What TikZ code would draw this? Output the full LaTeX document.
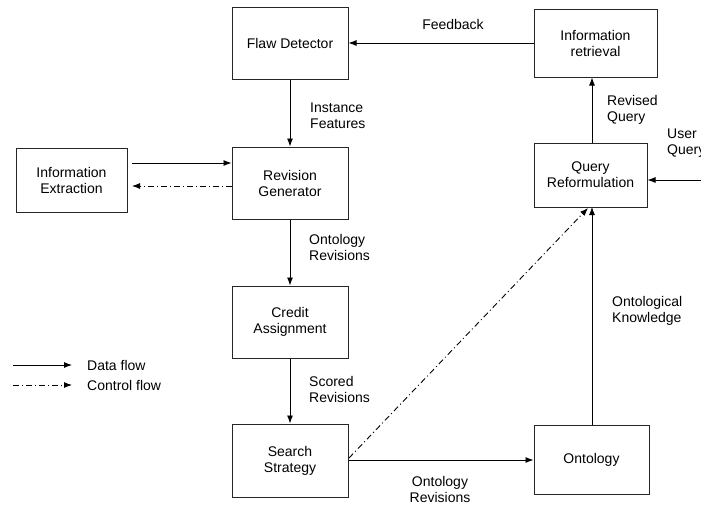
\documentclass[tikz,border=0pt]{standalone}
\usepackage{fontspec}
\setmainfont{Liberation Sans}
\usetikzlibrary{arrows.meta}
\begin{document}
\begin{tikzpicture}[x=1pt,y=-1pt,
  box/.style={draw=black!85, line width=1pt, minimum width=116pt, minimum height=72pt,
    align=center, font=\fontsize{14}{16}\selectfont, inner sep=0pt},
  lbl/.style={align=left, font=\fontsize{14}{16}\selectfont, inner sep=0pt},
  flow/.style={line width=0.9pt, -{Latex[length=8pt,width=6pt]}},
  ctrl/.style={flow, dash pattern=on 6pt off 3pt on 1pt off 3pt}]
\useasboundingbox (0,0) rectangle (701,504);

% process boxes
\node[box] (fd) at (290,43) {Flaw Detector};
\node[box] (rg) at (290,183) {Revision\\Generator};
\node[box, minimum width=111pt, minimum height=64pt] (ie) at (71.5,180) {Information\\Extraction};
\node[box] (ca) at (290,322) {Credit\\Assignment};
\node[box, minimum height=73pt] (ss) at (290,460.5) {Search\\Strategy};
\node[box, minimum width=123pt, minimum height=68pt] (ir) at (595.5,43) {Information\\retrieval};
\node[box, minimum width=113pt, minimum height=64pt] (qr) at (590.5,175) {Query\\Reformulation};
\node[box, minimum width=115pt, minimum height=69pt] (on) at (591.5,459.5) {Ontology};

% free ends
\coordinate (uq) at (701,180);
\coordinate (ieA) at (132,163);
\coordinate (ieB) at (132,186);

% data flow
\draw[flow] (fd) -- (rg);
\draw[flow] (rg) -- (ca);
\draw[flow] (ca) -- (ss);
\draw[flow] (ir.west) -- (fd.east);
\draw[flow] (ieA) -- (ieA -| rg.west);
\draw[flow] (ss.east |- 0,460) -- (on.west |- 0,460);
\draw[flow] (uq) -- (uq -| qr.east);
\draw[flow] (592,425) coordinate (onTop) -- (592,207);
\draw[flow] (qr.north -| 592,0) -- (ir.south -| 592,0);

% control flow
\draw[ctrl] (ieB -| rg.west) -- (ieB);
\draw[ctrl] (349,458) coordinate (ssE) -- (588,208);

% edge labels
\node[lbl, anchor=west] (l1) at (310,116) {Instance\\Features};
\node[lbl] (l2) at (453,24) {Feedback};
\node[lbl, anchor=west] (l3) at (309,247) {Ontology\\Revisions};
\node[lbl, anchor=west] (l4) at (309,389) {Scored\\Revisions};
\node[lbl, align=center] (l5) at (440,489) {Ontology\\Revisions};
\node[lbl, anchor=west] (l6) at (607,110) {Revised\\Query};
\node[lbl, anchor=west] (l7) at (667,143) {User\\Query};
\node[lbl, anchor=west] (l8) at (612,311) {Ontological\\Knowledge};

% legend
\coordinate (lg1) at (13,365);
\coordinate (lg2) at (13,385);
\draw[flow] (lg1) -- ++(59,0) coordinate (lg1e);
\draw[ctrl] (lg2) -- ++(59,0) coordinate (lg2e);
\node[lbl, anchor=west] (t1) at (87,365) {Data flow};
\node[lbl, anchor=west] (t2) at (87,385) {Control flow};
\end{tikzpicture}
\end{document}
